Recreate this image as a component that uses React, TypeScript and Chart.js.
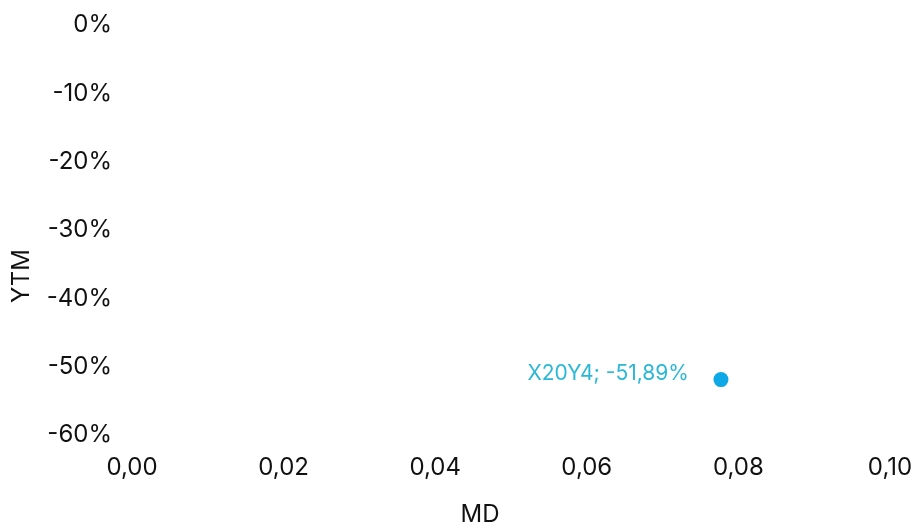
import React, { useEffect, useRef } from "react";
import { Chart, registerables } from "chart.js";

Chart.register(...registerables);

const seriesNames = ["X20Y4"];
const mdValues = [0.0777];
const ytmValues = [-51.89];
const xTickRange = [0, 0.1, 0.02];
const yTickRange = [-60, 0, 10];
const xTitle = "MD";
const yTitle = "YTM";

const FONT = "Inter, 'DejaVu Sans', sans-serif";

const labelPlugin = {
  id: "pointLabels",
  afterDatasetsDraw(chart: any) {
    const ctx = chart.ctx;
    const meta = chart.getDatasetMeta(0);
    meta.data.forEach((pt: any, i: number) => {
      const text = `${seriesNames[i]}; ${ytmValues[i].toFixed(2).replace(".", ",")}%`;
      ctx.save();
      ctx.font = `21px ${FONT}`;
      ctx.fillStyle = "#2bb8d6";
      ctx.textAlign = "right";
      ctx.textBaseline = "middle";
      ctx.fillText(text, pt.x - 32, pt.y - 6);
      ctx.restore();
    });
  },
};

const titlePlugin = {
  id: "axisTitles",
  afterDraw(chart: any) {
    const ctx = chart.ctx;
    ctx.save();
    ctx.font = `24px ${FONT}`;
    ctx.fillStyle = "#111";
    ctx.textAlign = "center";
    ctx.textBaseline = "middle";
    ctx.fillText(xTitle, 480, 515);
    ctx.translate(22, 276);
    ctx.rotate(-Math.PI / 2);
    ctx.fillText(yTitle, 0, 0);
    ctx.restore();
  },
};

export default function App() {
  const ref = useRef<HTMLCanvasElement | null>(null);
  useEffect(() => {
    document.body.style.margin = "0";
    const chart = new Chart(ref.current as HTMLCanvasElement, {
      type: "scatter",
      data: {
        datasets: [
          {
            label: seriesNames[0],
            data: mdValues.map((x, i) => ({ x, y: ytmValues[i] })),
            backgroundColor: "#0ea8e6",
            borderWidth: 0,
            pointRadius: 7.5,
            pointHoverRadius: 7.5,
          },
        ],
      },
      options: {
        animation: false,
        responsive: false,
        maintainAspectRatio: false,
        layout: { padding: { top: 25, right: 29, left: 0, bottom: 0 } },
        plugins: { legend: { display: false }, tooltip: { enabled: false } },
        scales: {
          x: {
            type: "linear",
            min: xTickRange[0],
            max: xTickRange[1],
            grid: { display: false },
            border: { display: false },
            ticks: {
              stepSize: xTickRange[2],
              padding: 10,
              color: "#111",
              font: { family: FONT, size: 24 },
              callback: (v: any) => Number(v).toFixed(2).replace(".", ","),
            },
            afterFit: (s: any) => {
              s.height = 93;
              s.paddingLeft = 0;
              s.paddingRight = 0;
            },
          },
          y: {
            type: "linear",
            min: yTickRange[0],
            max: yTickRange[1],
            grid: { display: false },
            border: { display: false },
            ticks: {
              stepSize: yTickRange[2],
              padding: 12,
              color: "#111",
              font: { family: FONT, size: 24 },
              callback: (v: any) => `${Math.round(Number(v))}%`,
            },
            afterFit: (s: any) => {
              s.width = 132;
              s.paddingTop = 0;
              s.paddingBottom = 0;
            },
          },
        },
      },
      plugins: [labelPlugin, titlePlugin],
    });
    return () => chart.destroy();
  }, []);
  return (
    <div style={{ width: 919, height: 528 }}>
      <canvas ref={ref} width={919} height={528} style={{ width: 919, height: 528 }} />
    </div>
  );
}
